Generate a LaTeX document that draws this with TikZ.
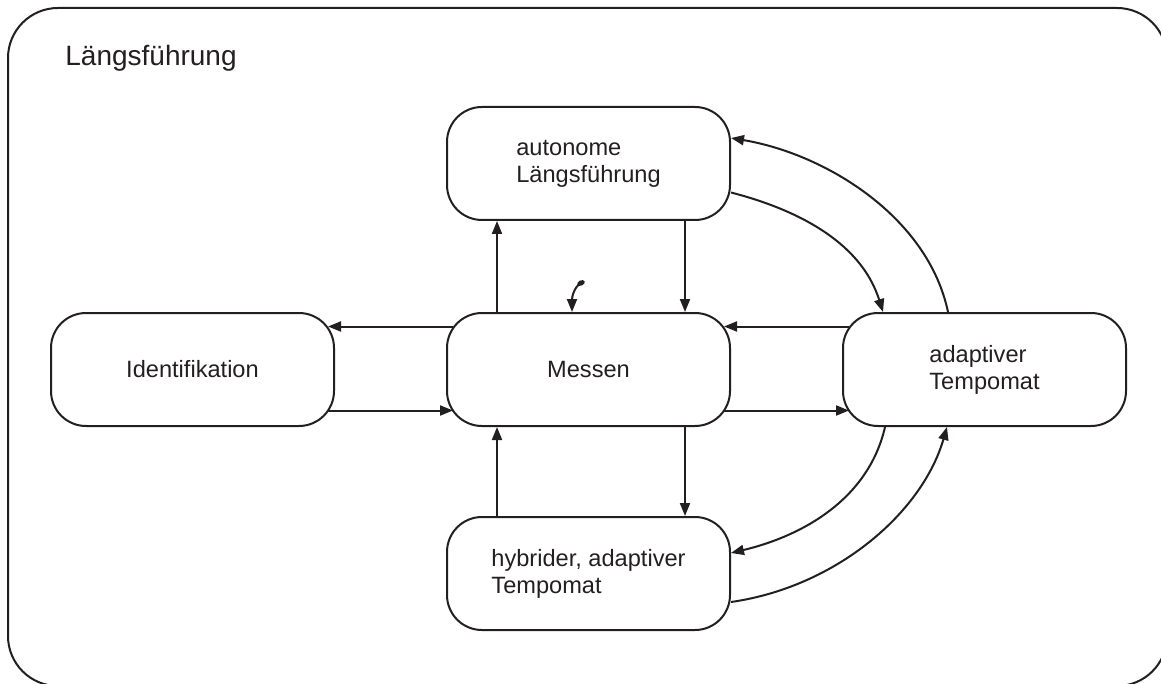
\documentclass[tikz,border=0pt]{standalone}
\usepackage{fontspec}
\setmainfont{Liberation Sans}
\usetikzlibrary{arrows.meta,calc}
\definecolor{ink}{RGB}{35,31,32}
\begin{document}
\begin{tikzpicture}[x=0.5pt,y=-0.5pt,
  state/.style={draw=ink, line width=1pt, rounded corners=17.5pt,
    minimum width=141.5pt, minimum height=56.5pt, inner sep=0pt,
    align=left, text=ink, font=\fontsize{11.8}{13.5}\selectfont},
  trans/.style={draw=ink, line width=1pt,
    -{Triangle[length=6.5pt,width=5pt]}},
  frame/.style={draw=ink, line width=1pt, rounded corners=25pt}]
\useasboundingbox (0,0) rectangle (1161,684);
\clip (0,0) rectangle (1161,684);

% outer state frame
\draw[frame] (8,8) rectangle (1167,686);
\node[anchor=base west, inner sep=0pt, text=ink,
  font=\fontsize{14}{16}\selectfont] (title) at (65,66) {Längsführung};

% states
\node[state] (Ident)  at (192.5,369.5) {Identifikation};
\node[state] (Messen) at (588.5,369.5) {Messen};
\node[state] (Adapt)  at (984.5,369.5) {adaptiver\\Tempomat};
\node[state] (Auto)   at (588.5,163.5) {autonome\\Längsführung};
\node[state] (Hybrid) at (588.5,573.5) {hybrider, adaptiver\\Tempomat};

% horizontal transitions
\draw[trans] ($(Messen.west)+(7,-43)$) -- ($(Ident.east)+(-7,-43)$);
\draw[trans] ($(Ident.east)+(-7,41)$) -- ($(Messen.west)+(7,41)$);
\draw[trans] ($(Adapt.west)+(7,-43)$) -- ($(Messen.east)+(-7,-43)$);
\draw[trans] ($(Messen.east)+(-7,41)$) -- ($(Adapt.west)+(7,41)$);

% vertical transitions
\draw[trans] ($(Messen.north)+(-91.5,0)$) -- ($(Auto.south)+(-91.5,0)$);
\draw[trans] ($(Auto.south)+(96.5,0)$) -- ($(Messen.north)+(96.5,0)$);
\draw[trans] ($(Messen.south)+(96.5,0)$) -- ($(Hybrid.north)+(96.5,0)$);
\draw[trans] ($(Hybrid.north)+(-91.5,0)$) -- ($(Messen.south)+(-91.5,0)$);

% curved transitions around the adaptive cruise control state
\draw[trans] ($(Auto.east)+(0,29)$) .. controls +(60,15.5) and +(-23,-73) .. ($(Adapt.north)+(-101.5,0)$);
\draw[trans] ($(Adapt.north)+(-36.5,0)$) .. controls +(-20,-95) and +(95,16) .. ($(Auto.east)+(0,-25.5)$);
\draw[trans] ($(Adapt.south)+(-99.5,0)$) .. controls +(-16,70) and +(75,-18) .. ($(Hybrid.east)+(0,-20.5)$);
\draw[trans] ($(Hybrid.east)+(0,28.5)$) .. controls +(105,-15) and +(-25,86) .. ($(Adapt.south)+(-37.5,0)$);

% initial transition
\coordinate (init) at (581,283);
\fill[ink, rotate around={25:(init)}] (init) ellipse [x radius=2pt, y radius=1.3pt];
\draw[trans] (init) .. controls +(-7,4) and +(0,-15) .. ($(Messen.north)+(-16.5,0)$);
\end{tikzpicture}
\end{document}
